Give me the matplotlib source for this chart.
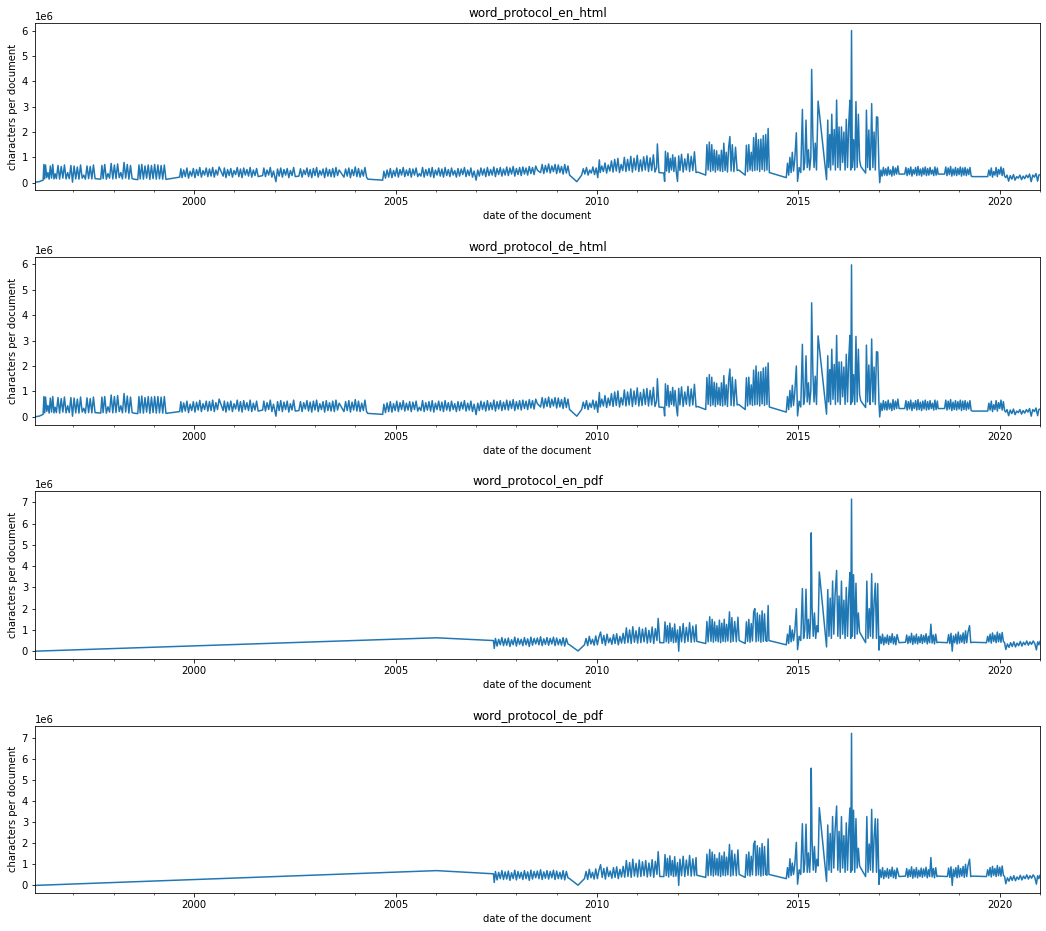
import numpy as np
import matplotlib.pyplot as plt
from matplotlib.ticker import MultipleLocator, FuncFormatter


# html protocols: document dates (decimal years), en and de share the same dates
html_dates = [
    1996.05, 1996.15, 1996.25, 1996.27, 1996.29, 1996.31, 1996.34, 1996.37, 1996.40, 1996.43,
    1996.46, 1996.49, 1996.52, 1996.55, 1996.58, 1996.62, 1996.66, 1996.70, 1996.74, 1996.78,
    1996.82, 1996.86, 1996.90, 1996.94, 1996.98, 1997.02, 1997.06, 1997.10, 1997.14, 1997.18,
    1997.22, 1997.26, 1997.30, 1997.34, 1997.38, 1997.42, 1997.46, 1997.50, 1997.54, 1997.68,
    1997.71, 1997.74, 1997.78, 1997.82, 1997.86, 1997.90, 1997.94, 1997.98, 1998.02, 1998.06,
    1998.10, 1998.14, 1998.18, 1998.22, 1998.26, 1998.30, 1998.34, 1998.38, 1998.42, 1998.46,
    1998.50, 1998.60, 1998.63, 1998.66, 1998.70, 1998.74, 1998.78, 1998.82, 1998.86, 1998.90,
    1998.94, 1998.98, 1999.02, 1999.06, 1999.10, 1999.14, 1999.18, 1999.22, 1999.26, 1999.30,
    1999.64, 1999.67, 1999.70, 1999.74, 1999.78, 1999.82, 1999.86, 1999.90, 1999.94, 1999.98,
    2000.02, 2000.06, 2000.10, 2000.14, 2000.18, 2000.22, 2000.26, 2000.30, 2000.34, 2000.38,
    2000.42, 2000.46, 2000.50, 2000.54, 2000.58, 2000.62, 2000.72, 2000.75, 2000.79, 2000.83,
    2000.87, 2000.91, 2000.95, 2000.99, 2001.03, 2001.07, 2001.11, 2001.15, 2001.19, 2001.23,
    2001.27, 2001.31, 2001.35, 2001.39, 2001.43, 2001.47, 2001.51, 2001.55, 2001.59, 2001.70,
    2001.73, 2001.77, 2001.81, 2001.85, 2001.89, 2001.93, 2001.97, 2002.03, 2002.07, 2002.11,
    2002.15, 2002.19, 2002.23, 2002.27, 2002.31, 2002.35, 2002.39, 2002.43, 2002.47, 2002.51,
    2002.60, 2002.64, 2002.68, 2002.72, 2002.76, 2002.80, 2002.84, 2002.88, 2002.92, 2002.96,
    2003.00, 2003.04, 2003.08, 2003.12, 2003.16, 2003.20, 2003.24, 2003.28, 2003.32, 2003.36,
    2003.40, 2003.44, 2003.48, 2003.52, 2003.56, 2003.60, 2003.72, 2003.76, 2003.80, 2003.84,
    2003.88, 2003.92, 2003.96, 2004.00, 2004.04, 2004.08, 2004.12, 2004.16, 2004.20, 2004.24,
    2004.28, 2004.31, 2004.68, 2004.71, 2004.75, 2004.79, 2004.83, 2004.87, 2004.91, 2004.95,
    2004.99, 2005.03, 2005.07, 2005.11, 2005.15, 2005.19, 2005.23, 2005.27, 2005.31, 2005.35,
    2005.39, 2005.43, 2005.47, 2005.51, 2005.55, 2005.59, 2005.63, 2005.67, 2005.71, 2005.75,
    2005.79, 2005.83, 2005.87, 2005.91, 2005.95, 2005.99, 2006.03, 2006.07, 2006.11, 2006.15,
    2006.19, 2006.23, 2006.27, 2006.31, 2006.35, 2006.39, 2006.43, 2006.47, 2006.51, 2006.55,
    2006.59, 2006.63, 2006.67, 2006.71, 2006.75, 2006.79, 2006.83, 2006.87, 2006.91, 2006.95,
    2007.00, 2007.04, 2007.08, 2007.12, 2007.16, 2007.20, 2007.24, 2007.28, 2007.32, 2007.36,
    2007.40, 2007.44, 2007.48, 2007.52, 2007.56, 2007.60, 2007.64, 2007.68, 2007.72, 2007.76,
    2007.80, 2007.84, 2007.88, 2007.92, 2007.96, 2008.00, 2008.04, 2008.08, 2008.12, 2008.16,
    2008.20, 2008.24, 2008.28, 2008.32, 2008.36, 2008.40, 2008.44, 2008.48, 2008.52, 2008.56,
    2008.60, 2008.64, 2008.68, 2008.72, 2008.76, 2008.80, 2008.84, 2008.88, 2008.92, 2008.96,
    2009.00, 2009.04, 2009.08, 2009.12, 2009.16, 2009.20, 2009.24, 2009.28, 2009.32, 2009.50,
    2009.62, 2009.66, 2009.70, 2009.74, 2009.78, 2009.82, 2009.86, 2009.90, 2009.94, 2009.98,
    2010.02, 2010.06, 2010.08, 2010.12, 2010.16, 2010.20, 2010.24, 2010.28, 2010.32, 2010.36,
    2010.40, 2010.44, 2010.48, 2010.52, 2010.56, 2010.60, 2010.64, 2010.68, 2010.72, 2010.76,
    2010.80, 2010.84, 2010.88, 2010.92, 2010.96, 2011.00, 2011.04, 2011.08, 2011.12, 2011.16,
    2011.20, 2011.24, 2011.28, 2011.32, 2011.36, 2011.40, 2011.44, 2011.48, 2011.50, 2011.54,
    2011.66, 2011.68, 2011.70, 2011.73, 2011.76, 2011.79, 2011.82, 2011.85, 2011.88, 2011.91,
    2011.94, 2011.97, 2012.00, 2012.03, 2012.06, 2012.10, 2012.14, 2012.18, 2012.22, 2012.26,
    2012.30, 2012.34, 2012.38, 2012.42, 2012.46, 2012.50, 2012.70, 2012.73, 2012.76, 2012.79,
    2012.82, 2012.85, 2012.88, 2012.91, 2012.94, 2012.97, 2013.00, 2013.03, 2013.06, 2013.09,
    2013.12, 2013.15, 2013.18, 2013.21, 2013.24, 2013.27, 2013.30, 2013.33, 2013.36, 2013.40,
    2013.44, 2013.48, 2013.52, 2013.68, 2013.71, 2013.74, 2013.77, 2013.80, 2013.83, 2013.86,
    2013.89, 2013.92, 2013.95, 2013.98, 2014.01, 2014.04, 2014.07, 2014.10, 2014.13, 2014.16,
    2014.19, 2014.22, 2014.25, 2014.28, 2014.70, 2014.73, 2014.76, 2014.79, 2014.82, 2014.85,
    2014.88, 2014.91, 2014.95, 2014.98, 2015.02, 2015.06, 2015.10, 2015.13, 2015.16, 2015.19,
    2015.22, 2015.25, 2015.28, 2015.31, 2015.33, 2015.36, 2015.39, 2015.42, 2015.45, 2015.49,
    2015.70, 2015.73, 2015.75, 2015.78, 2015.80, 2015.83, 2015.86, 2015.89, 2015.92, 2015.95,
    2015.98, 2016.01, 2016.04, 2016.07, 2016.10, 2016.13, 2016.16, 2016.19, 2016.22, 2016.25,
    2016.28, 2016.30, 2016.32, 2016.34, 2016.37, 2016.40, 2016.43, 2016.46, 2016.49, 2016.52,
    2016.55, 2016.67, 2016.69, 2016.72, 2016.75, 2016.78, 2016.80, 2016.82, 2016.85, 2016.88,
    2016.91, 2016.94, 2016.97, 2017.00, 2017.02, 2017.05, 2017.08, 2017.11, 2017.14, 2017.17,
    2017.20, 2017.23, 2017.26, 2017.29, 2017.32, 2017.35, 2017.38, 2017.41, 2017.44, 2017.47,
    2017.50, 2017.64, 2017.67, 2017.70, 2017.73, 2017.76, 2017.79, 2017.82, 2017.85, 2017.88,
    2017.91, 2017.94, 2017.97, 2018.00, 2018.03, 2018.06, 2018.09, 2018.12, 2018.15, 2018.18,
    2018.21, 2018.24, 2018.27, 2018.30, 2018.33, 2018.36, 2018.39, 2018.42, 2018.45, 2018.47,
    2018.63, 2018.66, 2018.69, 2018.72, 2018.75, 2018.78, 2018.81, 2018.84, 2018.87, 2018.90,
    2018.93, 2018.96, 2018.99, 2019.02, 2019.05, 2019.08, 2019.11, 2019.14, 2019.17, 2019.20,
    2019.23, 2019.26, 2019.29, 2019.32, 2019.70, 2019.73, 2019.76, 2019.79, 2019.82, 2019.85,
    2019.88, 2019.91, 2019.94, 2019.97, 2020.00, 2020.03, 2020.06, 2020.09, 2020.12, 2020.15,
    2020.18, 2020.22, 2020.26, 2020.30, 2020.34, 2020.38, 2020.42, 2020.46, 2020.50, 2020.54,
    2020.58, 2020.62, 2020.66, 2020.70, 2020.74, 2020.78, 2020.82, 2020.86, 2020.90, 2020.94,
    2020.97, 2021.00,
]

# characters per document, in units of 10 000
en_html = [
    2, 4, 10, 72, 15, 70, 20, 40, 14, 66,
    18, 72, 15, 35, 16, 68, 14, 64, 18, 70,
    15, 40, 16, 68, 2, 66, 15, 62, 14, 70,
    18, 30, 14, 66, 16, 64, 15, 70, 16, 14,
    68, 16, 72, 14, 36, 18, 76, 15, 70, 16,
    74, 20, 40, 15, 80, 18, 72, 14, 68, 16,
    14, 12, 70, 15, 72, 14, 66, 18, 70, 13,
    68, 16, 72, 14, 70, 15, 68, 14, 70, 13,
    22, 55, 20, 50, 24, 58, 18, 45, 26, 56,
    20, 52, 28, 60, 22, 48, 30, 58, 24, 54,
    26, 60, 22, 50, 30, 62, 26, 58, 20, 52,
    28, 56, 22, 48, 32, 60, 24, 54, 20, 58,
    30, 52, 26, 60, 22, 50, 28, 56, 24, 28,
    58, 24, 50, 30, 60, 22, 46, 4, 54, 26,
    58, 22, 52, 30, 56, 20, 48, 28, 60, 24,
    26, 55, 22, 50, 32, 58, 24, 52, 20, 56,
    28, 60, 22, 48, 30, 54, 20, 58, 26, 52,
    24, 56, 22, 60, 28, 50, 22, 54, 26, 58,
    20, 52, 28, 62, 24, 56, 22, 50, 26, 60,
    22, 14, 10, 45, 18, 50, 22, 56, 20, 48,
    26, 58, 22, 52, 30, 60, 24, 50, 28, 56,
    22, 54, 30, 58, 24, 36, 26, 60, 22, 52,
    28, 56, 24, 60, 20, 50, 30, 58, 26, 54,
    22, 60, 28, 52, 24, 58, 30, 48, 22, 56,
    26, 54, 32, 60, 24, 50, 28, 58, 22, 46,
    10, 50, 26, 58, 30, 54, 24, 60, 28, 52,
    30, 62, 24, 56, 32, 60, 26, 54, 30, 62,
    28, 58, 34, 64, 26, 56, 32, 60, 28, 62,
    34, 58, 30, 64, 36, 60, 32, 66, 50, 44,
    40, 72, 36, 68, 42, 74, 38, 66, 44, 72,
    36, 70, 40, 64, 34, 72, 38, 66, 30, 4,
    30, 55, 34, 60, 30, 50, 38, 62, 32, 58,
    20, 90, 40, 66, 44, 78, 38, 70, 46, 86,
    42, 92, 46, 96, 40, 72, 48, 100, 44, 92,
    48, 104, 42, 96, 50, 108, 44, 90, 46, 102,
    50, 106, 44, 98, 48, 110, 42, 60, 153, 40,
    38, 5, 124, 46, 118, 40, 96, 50, 110, 44,
    100, 42, 5, 106, 48, 112, 42, 94, 50, 114,
    44, 104, 48, 122, 40, 42, 30, 150, 50, 160,
    44, 150, 48, 130, 42, 126, 50, 110, 46, 128,
    44, 156, 48, 120, 42, 140, 182, 46, 150, 44,
    140, 48, 50, 30, 148, 44, 150, 50, 120, 46,
    178, 48, 195, 50, 170, 44, 172, 52, 186, 46,
    190, 50, 214, 40, 20, 77, 30, 100, 40, 120,
    46, 90, 197, 5, 60, 40, 289, 50, 80, 247,
    60, 130, 50, 100, 447, 182, 60, 156, 50, 322,
    12, 247, 60, 190, 50, 270, 70, 210, 50, 326,
    60, 220, 50, 220, 80, 200, 50, 250, 60, 230,
    325, 50, 600, 60, 170, 50, 320, 60, 270, 90,
    64, 38, 286, 60, 208, 50, 140, 312, 60, 200,
    50, 260, 258, 60, 0, 50, 26, 60, 30, 55,
    28, 62, 32, 50, 26, 64, 30, 58, 34, 66,
    34, 34, 60, 28, 56, 32, 62, 26, 52, 34,
    60, 28, 64, 30, 54, 26, 58, 32, 62, 28,
    56, 30, 60, 34, 50, 28, 62, 30, 58, 34,
    34, 62, 28, 58, 32, 64, 26, 54, 30, 60,
    28, 56, 32, 62, 26, 58, 30, 60, 28, 54,
    32, 60, 26, 24, 24, 50, 28, 58, 22, 44,
    30, 60, 24, 52, 34, 62, 28, 56, 26, 20,
    30, 6, 28, 14, 32, 10, 24, 18, 30, 12,
    26, 16, 30, 20, 34, 4, 30, 22, 36, 6,
    30, 32,
]

de_html = [
    1, 3, 10, 80, 16, 78, 22, 45, 15, 74,
    19, 80, 16, 38, 17, 76, 15, 72, 19, 78,
    16, 44, 17, 76, 3, 74, 16, 70, 15, 78,
    19, 34, 15, 75, 17, 72, 16, 78, 17, 15,
    78, 17, 80, 15, 40, 19, 86, 16, 80, 17,
    84, 21, 44, 16, 92, 19, 82, 15, 78, 17,
    15, 13, 80, 16, 82, 15, 76, 19, 80, 14,
    78, 17, 80, 15, 80, 16, 78, 15, 80, 14,
    21, 60, 19, 55, 23, 62, 17, 50, 25, 60,
    19, 58, 27, 65, 21, 52, 29, 62, 23, 60,
    25, 66, 21, 56, 29, 70, 25, 62, 19, 58,
    27, 62, 21, 52, 31, 66, 23, 60, 19, 64,
    29, 56, 25, 66, 21, 54, 27, 62, 23, 27,
    62, 23, 56, 29, 66, 21, 50, 3, 60, 25,
    64, 21, 58, 29, 62, 19, 52, 27, 66, 23,
    25, 60, 21, 56, 31, 64, 23, 58, 19, 62,
    27, 66, 21, 52, 29, 60, 19, 64, 25, 56,
    23, 62, 21, 66, 27, 54, 21, 60, 25, 64,
    19, 58, 27, 68, 23, 62, 21, 54, 25, 66,
    21, 14, 10, 50, 17, 55, 21, 60, 19, 52,
    25, 62, 21, 56, 29, 64, 23, 54, 27, 60,
    21, 58, 29, 62, 23, 38, 25, 64, 21, 56,
    27, 60, 23, 64, 19, 54, 29, 62, 25, 58,
    21, 64, 27, 56, 23, 62, 29, 52, 21, 60,
    25, 58, 31, 64, 23, 54, 27, 62, 21, 50,
    9, 54, 25, 62, 29, 58, 23, 64, 27, 56,
    29, 66, 23, 60, 31, 64, 25, 58, 29, 66,
    27, 62, 33, 68, 25, 60, 31, 64, 27, 66,
    33, 62, 29, 68, 35, 64, 31, 70, 52, 46,
    39, 76, 35, 72, 41, 78, 37, 70, 43, 76,
    35, 74, 39, 68, 33, 76, 37, 70, 29, 3,
    29, 58, 33, 64, 29, 54, 37, 66, 31, 62,
    18, 96, 39, 70, 43, 84, 37, 74, 45, 92,
    41, 98, 45, 102, 39, 76, 47, 106, 43, 98,
    47, 110, 41, 102, 49, 114, 43, 96, 45, 108,
    49, 112, 43, 104, 47, 116, 41, 62, 150, 39,
    37, 4, 130, 45, 124, 39, 100, 49, 116, 43,
    104, 41, 4, 112, 47, 118, 41, 98, 49, 120,
    43, 110, 47, 128, 39, 41, 29, 155, 49, 166,
    43, 156, 47, 136, 41, 132, 49, 116, 45, 134,
    43, 162, 47, 126, 41, 146, 188, 45, 156, 43,
    146, 47, 49, 29, 154, 43, 156, 49, 126, 45,
    184, 47, 200, 49, 176, 43, 178, 51, 192, 45,
    196, 49, 212, 39, 19, 80, 29, 104, 39, 124,
    45, 94, 200, 4, 62, 39, 285, 49, 84, 240,
    59, 134, 49, 104, 448, 178, 59, 160, 49, 318,
    11, 240, 59, 186, 49, 266, 69, 206, 49, 320,
    59, 216, 49, 216, 79, 196, 49, 246, 59, 226,
    320, 49, 597, 59, 166, 49, 316, 59, 266, 88,
    63, 37, 282, 59, 204, 49, 138, 306, 59, 196,
    49, 256, 254, 59, 0, 54, 25, 64, 29, 60,
    27, 66, 31, 54, 25, 68, 29, 62, 33, 70,
    33, 33, 64, 27, 60, 31, 66, 25, 56, 33,
    64, 27, 68, 29, 58, 25, 62, 31, 66, 27,
    60, 29, 64, 33, 54, 27, 66, 29, 62, 33,
    33, 66, 27, 62, 31, 68, 25, 58, 29, 64,
    27, 60, 31, 66, 25, 62, 29, 64, 27, 58,
    31, 64, 25, 23, 23, 54, 27, 62, 21, 48,
    29, 64, 23, 56, 33, 66, 27, 60, 25, 19,
    29, 5, 27, 13, 31, 9, 23, 17, 29, 11,
    25, 15, 29, 19, 33, 3, 29, 21, 35, 5,
    29, 31,
]

# pdf protocols: document dates (decimal years), en and de share the same dates
pdf_dates = [
    1996.05, 2006.02, 2007.43, 2007.45, 2007.48, 2007.52, 2007.56, 2007.60, 2007.64, 2007.68,
    2007.72, 2007.76, 2007.80, 2007.84, 2007.88, 2007.92, 2007.96, 2008.00, 2008.04, 2008.08,
    2008.12, 2008.16, 2008.20, 2008.24, 2008.28, 2008.32, 2008.36, 2008.40, 2008.44, 2008.48,
    2008.52, 2008.56, 2008.60, 2008.64, 2008.68, 2008.72, 2008.76, 2008.80, 2008.84, 2008.88,
    2008.92, 2008.96, 2009.00, 2009.04, 2009.08, 2009.12, 2009.16, 2009.20, 2009.24, 2009.28,
    2009.32, 2009.53, 2009.69, 2009.73, 2009.77, 2009.81, 2009.85, 2009.89, 2009.93, 2009.97,
    2010.01, 2010.05, 2010.09, 2010.13, 2010.17, 2010.21, 2010.25, 2010.29, 2010.33, 2010.37,
    2010.41, 2010.45, 2010.49, 2010.53, 2010.57, 2010.61, 2010.65, 2010.69, 2010.73, 2010.77,
    2010.81, 2010.85, 2010.89, 2010.93, 2010.97, 2011.01, 2011.05, 2011.09, 2011.13, 2011.17,
    2011.21, 2011.25, 2011.29, 2011.33, 2011.37, 2011.41, 2011.45, 2011.49, 2011.52, 2011.56,
    2011.66, 2011.69, 2011.72, 2011.75, 2011.78, 2011.81, 2011.84, 2011.87, 2011.90, 2011.93,
    2011.96, 2012.00, 2012.03, 2012.06, 2012.10, 2012.14, 2012.18, 2012.22, 2012.26, 2012.30,
    2012.34, 2012.38, 2012.42, 2012.46, 2012.48, 2012.70, 2012.73, 2012.76, 2012.80, 2012.83,
    2012.86, 2012.89, 2012.92, 2012.95, 2012.98, 2013.01, 2013.04, 2013.07, 2013.10, 2013.13,
    2013.16, 2013.19, 2013.22, 2013.25, 2013.29, 2013.32, 2013.35, 2013.38, 2013.42, 2013.46,
    2013.50, 2013.53, 2013.68, 2013.71, 2013.74, 2013.77, 2013.80, 2013.83, 2013.86, 2013.89,
    2013.92, 2013.95, 2013.98, 2014.01, 2014.04, 2014.07, 2014.10, 2014.13, 2014.16, 2014.19,
    2014.22, 2014.25, 2014.27, 2014.70, 2014.73, 2014.76, 2014.79, 2014.82, 2014.85, 2014.88,
    2014.91, 2014.95, 2014.98, 2015.02, 2015.06, 2015.10, 2015.13, 2015.16, 2015.19, 2015.22,
    2015.25, 2015.28, 2015.30, 2015.32, 2015.34, 2015.37, 2015.40, 2015.43, 2015.46, 2015.49,
    2015.52, 2015.70, 2015.73, 2015.76, 2015.79, 2015.82, 2015.85, 2015.88, 2015.91, 2015.95,
    2015.98, 2016.01, 2016.04, 2016.07, 2016.10, 2016.13, 2016.16, 2016.19, 2016.22, 2016.25,
    2016.28, 2016.30, 2016.32, 2016.34, 2016.37, 2016.40, 2016.43, 2016.46, 2016.49, 2016.52,
    2016.55, 2016.67, 2016.70, 2016.73, 2016.76, 2016.79, 2016.82, 2016.85, 2016.88, 2016.91,
    2016.94, 2016.97, 2017.00, 2017.03, 2017.06, 2017.09, 2017.12, 2017.15, 2017.18, 2017.21,
    2017.24, 2017.27, 2017.30, 2017.33, 2017.36, 2017.39, 2017.42, 2017.45, 2017.50, 2017.66,
    2017.69, 2017.72, 2017.75, 2017.78, 2017.81, 2017.84, 2017.87, 2017.90, 2017.93, 2017.96,
    2017.99, 2018.02, 2018.05, 2018.08, 2018.11, 2018.14, 2018.17, 2018.20, 2018.23, 2018.26,
    2018.29, 2018.32, 2018.35, 2018.38, 2018.41, 2018.44, 2018.47, 2018.70, 2018.73, 2018.76,
    2018.79, 2018.82, 2018.85, 2018.88, 2018.91, 2018.94, 2018.97, 2019.00, 2019.03, 2019.06,
    2019.09, 2019.12, 2019.15, 2019.18, 2019.21, 2019.25, 2019.28, 2019.33, 2019.67, 2019.70,
    2019.73, 2019.76, 2019.79, 2019.82, 2019.85, 2019.88, 2019.91, 2019.94, 2019.97, 2020.00,
    2020.03, 2020.06, 2020.09, 2020.12, 2020.15, 2020.19, 2020.23, 2020.27, 2020.31, 2020.35,
    2020.39, 2020.43, 2020.47, 2020.51, 2020.55, 2020.59, 2020.63, 2020.67, 2020.71, 2020.75,
    2020.79, 2020.83, 2020.87, 2020.91, 2020.94, 2020.97, 2021.00,
]

en_pdf = [
    0, 63, 50, 13, 60, 24, 56, 30, 64, 26,
    58, 28, 62, 22, 54, 30, 66, 24, 60, 32,
    56, 26, 64, 30, 58, 22, 66, 28, 60, 34,
    62, 30, 68, 26, 58, 32, 64, 28, 60, 34,
    66, 26, 62, 30, 56, 28, 64, 24, 60, 34,
    30, 1, 30, 60, 26, 70, 34, 56, 28, 72,
    30, 66, 90, 36, 74, 28, 80, 40, 62, 32,
    78, 36, 82, 30, 70, 38, 84, 37, 110, 40,
    100, 36, 115, 42, 96, 38, 112, 40, 104, 44,
    110, 38, 98, 42, 114, 36, 106, 50, 154, 40,
    40, 138, 44, 120, 38, 132, 46, 110, 40, 128,
    42, 100, 0, 116, 44, 130, 40, 112, 46, 134,
    42, 118, 44, 124, 46, 36, 140, 44, 162, 46,
    150, 42, 138, 48, 120, 44, 146, 40, 132, 46,
    150, 44, 126, 48, 185, 42, 158, 46, 140, 44,
    160, 50, 36, 138, 46, 150, 42, 130, 48, 185,
    200, 44, 180, 48, 170, 42, 190, 46, 176, 50,
    46, 215, 50, 30, 80, 36, 120, 44, 100, 50,
    90, 200, 7, 70, 50, 295, 60, 100, 292, 60,
    150, 60, 130, 557, 210, 70, 180, 60, 120, 90,
    373, 20, 290, 70, 250, 60, 330, 80, 260, 380,
    70, 260, 60, 330, 80, 240, 60, 300, 70, 260,
    370, 60, 716, 70, 360, 60, 320, 80, 180, 90,
    80, 40, 330, 60, 200, 70, 365, 60, 230, 320,
    60, 318, 5, 70, 36, 80, 30, 66, 38, 76,
    32, 70, 40, 82, 34, 68, 30, 78, 40, 42,
    76, 36, 70, 40, 84, 32, 72, 38, 80, 34,
    68, 40, 78, 36, 74, 42, 82, 34, 70, 40,
    127, 38, 76, 34, 80, 40, 42, 40, 78, 36,
    84, 0, 72, 40, 80, 34, 90, 38, 76, 42,
    86, 36, 96, 40, 88, 120, 40, 42, 40, 70,
    44, 80, 38, 86, 46, 76, 40, 90, 44, 82,
    42, 88, 46, 40, 8, 34, 18, 40, 22, 44,
    20, 38, 26, 46, 24, 42, 30, 48, 28, 44,
    32, 48, 36, 6, 44, 30, 46,
]

de_pdf = [
    0, 70, 55, 14, 66, 26, 62, 32, 70, 28,
    64, 30, 68, 24, 60, 32, 72, 26, 66, 34,
    62, 28, 70, 32, 64, 24, 72, 30, 66, 36,
    68, 32, 74, 28, 64, 34, 70, 30, 66, 36,
    72, 28, 68, 32, 62, 30, 70, 26, 66, 36,
    32, 1, 32, 66, 28, 76, 36, 62, 30, 78,
    32, 72, 98, 38, 80, 30, 86, 42, 68, 34,
    84, 38, 88, 32, 76, 40, 90, 39, 118, 42,
    108, 38, 124, 44, 104, 40, 120, 42, 112, 46,
    118, 40, 106, 44, 122, 38, 114, 52, 160, 42,
    42, 146, 46, 128, 40, 140, 48, 118, 42, 136,
    44, 108, 0, 124, 46, 138, 42, 120, 48, 142,
    44, 126, 46, 132, 48, 38, 148, 46, 170, 48,
    158, 44, 146, 50, 128, 46, 154, 42, 140, 48,
    158, 46, 134, 50, 194, 44, 166, 48, 148, 46,
    168, 52, 38, 146, 48, 158, 44, 138, 50, 194,
    210, 46, 188, 50, 178, 44, 198, 48, 184, 52,
    48, 220, 52, 32, 84, 38, 126, 46, 106, 52,
    96, 204, 6, 74, 52, 292, 62, 104, 290, 62,
    154, 62, 134, 555, 214, 72, 184, 62, 124, 92,
    368, 19, 286, 72, 246, 62, 326, 82, 256, 376,
    72, 256, 62, 326, 82, 236, 62, 296, 72, 256,
    366, 62, 720, 72, 356, 62, 316, 82, 176, 92,
    82, 42, 326, 62, 196, 72, 360, 62, 226, 316,
    62, 314, 5, 74, 38, 84, 32, 70, 40, 80,
    34, 74, 42, 86, 36, 72, 32, 82, 42, 44,
    80, 38, 74, 42, 88, 34, 76, 40, 84, 36,
    72, 42, 82, 38, 78, 44, 86, 36, 74, 42,
    132, 40, 80, 36, 84, 42, 44, 42, 82, 38,
    88, 0, 76, 42, 84, 36, 94, 40, 80, 44,
    90, 38, 100, 42, 92, 124, 42, 44, 42, 74,
    46, 84, 40, 90, 48, 80, 42, 94, 46, 86,
    44, 92, 48, 42, 8, 36, 20, 42, 24, 46,
    22, 40, 28, 48, 26, 44, 32, 50, 30, 46,
    34, 50, 38, 6, 46, 32, 48,
]

titles = ['word_protocol_en_html', 'word_protocol_de_html',
          'word_protocol_en_pdf', 'word_protocol_de_pdf']
series = [(html_dates, en_html), (html_dates, de_html),
          (pdf_dates, en_pdf), (pdf_dates, de_pdf)]

fig, axes = plt.subplots(4, 1, figsize=(1046 / 72, 931 / 72), dpi=72)
plt.subplots_adjust(left=0.0335, right=0.9943, top=0.9753, bottom=0.0408, hspace=0.4)

for ax, title, (dates, chars) in zip(axes, titles, series):
    ax.plot(dates, np.array(chars) * 1e4, color='#1f77b4')
    ax.set_xlim(dates[0], dates[-1])
    ax.xaxis.set_major_locator(MultipleLocator(5))
    ax.xaxis.set_minor_locator(MultipleLocator(1))
    ax.xaxis.set_major_formatter(FuncFormatter(lambda v, p: '%d' % round(v)))
    ax.set_title(title)
    ax.set_xlabel('date of the document')
    ax.set_ylabel('characters per document')

fig.savefig('out.png', dpi=72)
